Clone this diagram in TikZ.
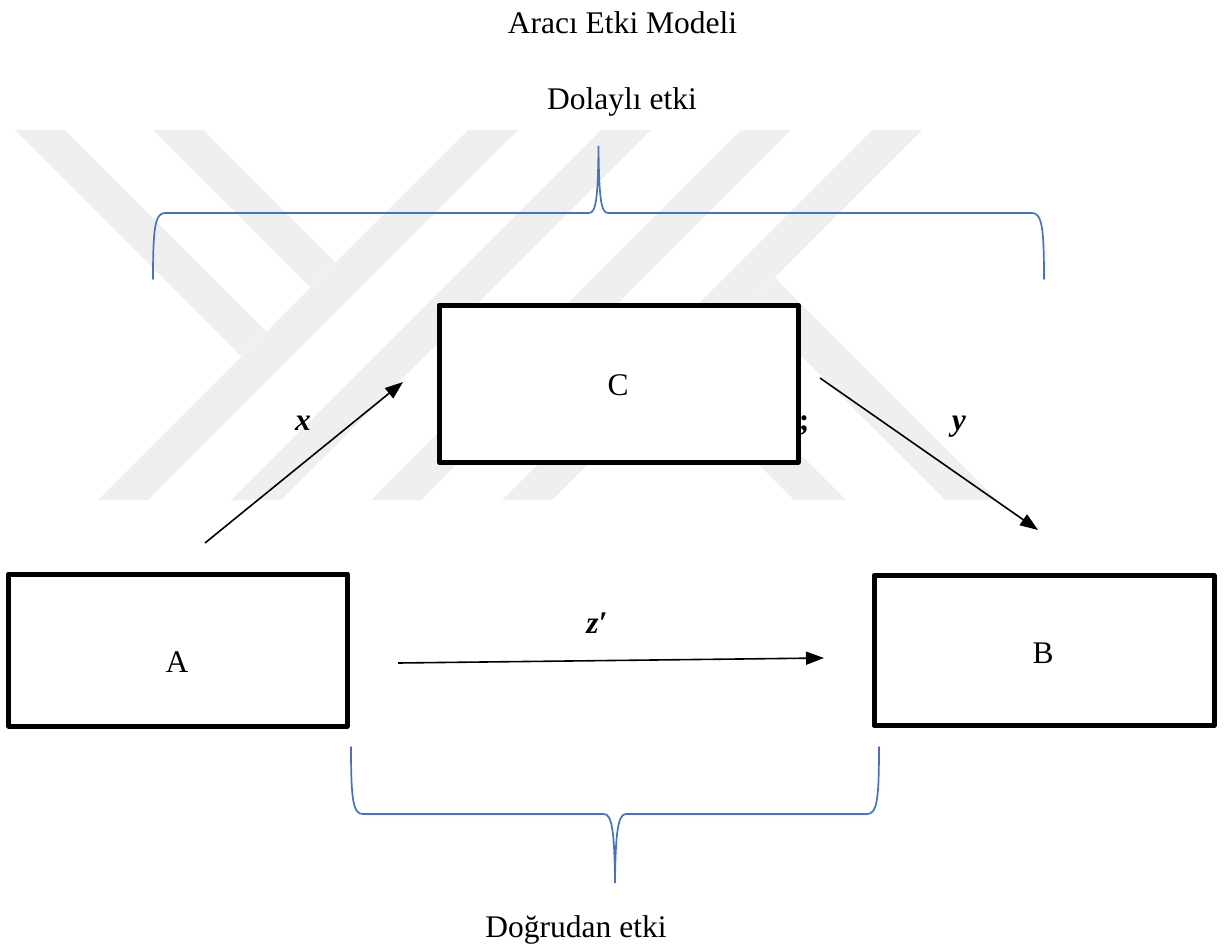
\documentclass[tikz,border=0pt]{standalone}
\usepackage{fontspec}
\setmainfont{Liberation Serif}
\usetikzlibrary{arrows.meta}
\definecolor{wmgray}{RGB}{239,239,239}
\definecolor{braceblue}{RGB}{68,114,196}
\begin{document}
\begin{tikzpicture}[x=1pt,y=-1pt,
  txt/.style={font=\fontsize{31.5}{36}\selectfont, inner sep=0pt, anchor=base},
  boxnode/.style={draw=black, line width=5pt, fill=white, inner sep=0pt, line join=round},
  arr/.style={line width=1.6pt, -{Triangle[length=18pt,width=13pt]}},
  bracepath/.style={draw=braceblue, line width=1.7pt, line cap=round},
  wmark/.style={fill=wmgray}]
\useasboundingbox (0,0) rectangle (1224,950);
% watermark
\fill[wmark] (15,130) -- (65,130) -- (266,331) -- (241,356) -- cycle;
\fill[wmark] (153,130) -- (203,130) -- (335,262) -- (310,287) -- cycle;
\fill[wmark] (468,130) -- (518,130) -- (148,500) -- (98,500) -- cycle;
\fill[wmark] (601,130) -- (651,130) -- (281,500) -- (231,500) -- cycle;
\fill[wmark] (741,130) -- (791,130) -- (421,500) -- (371,500) -- cycle;
\fill[wmark] (872,130) -- (922,130) -- (552,500) -- (502,500) -- cycle;
\fill[wmark] (794,500) -- (846,500) -- (699,353) -- (673,379) -- cycle;
\fill[wmark] (945,500) -- (997,500) -- (774.5,277.5) -- (748.5,303.5) -- cycle;
% titles
\node[txt] (title) at (622.5,33.3) {Aracı Etki Modeli};
\node[txt] (indirect) at (622,110) {Dolaylı etki};
\node[txt] (direct) at (576,937) {Doğrudan etki};
% braces
\draw[bracepath] (153,279) .. controls (153,228) and (155,213) .. (165,213) -- (589,213)
  .. controls (596,213) and (598,198) .. (598.5,146)
  .. controls (599,198) and (601,213) .. (608,213) -- (1032,213)
  .. controls (1042,213) and (1044,228) .. (1044,279);
\draw[bracepath] (351,747) .. controls (351,800) and (353,814) .. (363,814) -- (604,814)
  .. controls (612,814) and (614.5,832) .. (615,883)
  .. controls (615.5,832) and (618,814) .. (626,814) -- (867,814)
  .. controls (877,814) and (879,800) .. (879,747);
% boxes
\node[boxnode, minimum width=338.5pt, minimum height=152pt] (A) at (178,650) {};
\node[boxnode, minimum width=359pt, minimum height=157pt] (C) at (618.5,383.5) {};
\node[boxnode, minimum width=340pt, minimum height=150pt] (B) at (1044,650.5) {};
\node[txt] (Alab) at (177,672.7) {A};
\node[txt] (Blab) at (1043,663) {B};
\node[txt] (Clab) at (618,395) {C};
% arrows
\coordinate (xs) at (205,543);
\coordinate (xe) at (403,382);
\coordinate (ys) at (820,378);
\coordinate (ye) at (1038,530);
\coordinate (zs) at (398,663);
\coordinate (ze) at (824,658);
\draw[arr] (xs) -- (xe);
\draw[arr] (ys) -- (ye);
\draw[arr] (zs) -- (ze);
% path labels
\node[txt] (xlab) at (303,430) {\textbf{\textit{x}}};
\node[txt] (ylab) at (959,430) {\textbf{\textit{y}}};
\node[txt] (semi) at (804,430) {\textbf{;}};
\node[txt] (zlab) at (597,633) {\textbf{\textit{z′}}};
\end{tikzpicture}
\end{document}
